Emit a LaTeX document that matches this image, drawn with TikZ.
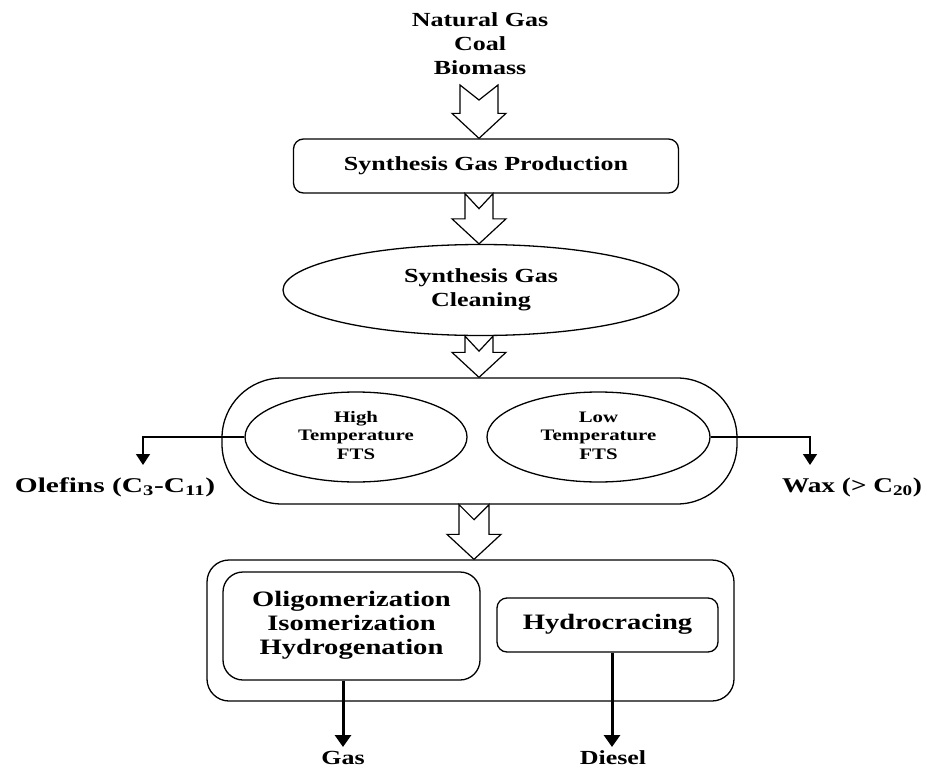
\documentclass[tikz,border=0pt]{standalone}
\usepackage{fontspec}
\setmainfont{Liberation Serif}
\usepackage{graphicx}
\usetikzlibrary{arrows.meta,shapes.geometric,calc}
\newcommand\sx[1]{\scalebox{1.3}[1]{\begin{tabular}{@{}c@{}}#1\end{tabular}}}
\newcommand\sxw[1]{\scalebox{1.4}[1]{\begin{tabular}{@{}c@{}}#1\end{tabular}}}
% block arrow: x, half shaft width, from, to
\newcommand\blockarr[4]{%
 \path[blockarrow] let \p1=(#3), \p2=(#4) in
  ({#1pt-#2pt},\y1) -- (#1pt,{\y1-15pt}) -- ({#1pt+#2pt},\y1)
  -- ({#1pt+#2pt},{\y2+25pt}) -- ({#1pt+27pt},{\y2+25pt}) -- (#1pt,\y2)
  -- ({#1pt-27pt},{\y2+25pt}) -- ({#1pt-#2pt},{\y2+25pt}) -- cycle;}
\tikzset{
 lbl/.style={font=\bfseries\fontsize{20}{24}\selectfont, inner sep=0pt},
 sidelbl/.style={font=\bfseries\fontsize{21}{24}\selectfont, inner sep=0pt},
 smalllbl/.style={font=\bfseries\fontsize{16}{18.5}\selectfont, inner sep=0pt},
 biglbl/.style={font=\bfseries\fontsize{22}{24}\selectfont, inner sep=0pt},
 rbox/.style={draw, line width=1.3pt, rounded corners=#1, inner sep=0pt},
 rbox/.default=10pt,
 ell/.style={draw, ellipse, line width=1.3pt, inner sep=0pt},
 blockarrow/.style={draw, fill=white, line width=1.2pt, line join=miter},
 sidearrow/.style={draw, line width=1.4pt, -{Triangle[width=14pt,length=11pt]}},
 bigarrow/.style={draw, line width=3pt, -{Triangle[width=16pt,length=12pt]}},
}
\begin{document}
\begin{tikzpicture}[x=1pt,y=-1pt]
\useasboundingbox (0,0) rectangle (927,771);
% feedstock
\node[lbl] (feed) at (480,46) {\sx{Natural Gas\\Coal\\Biomass}};
\coordinate (feedout) at (479,85);
% synthesis gas production
\node[rbox, minimum width=385pt, minimum height=54pt, lbl] (sgp) at (486,166) {\sx{Synthesis Gas Production}};
% cleaning
\node[ell, minimum width=396pt, minimum height=91pt, lbl] (clean) at (481,290) {\sx{Synthesis Gas\\Cleaning}};
% FTS container
\node[rbox=60pt, minimum width=515pt, minimum height=126pt] (fts) at (479.5,441) {};
\node[ell, minimum width=222pt, minimum height=90pt, smalllbl] (hts) at (356,437) {\sx{High\\Temperature\\FTS}};
\node[ell, minimum width=223pt, minimum height=90pt, smalllbl] (lts) at (598.5,437) {\sx{Low\\Temperature\\FTS}};
% side products
\node[sidelbl] (olef) at (115,488) {\sxw{Olefins (C\textsubscript{3}-C\textsubscript{11})}};
\node[sidelbl] (wax) at (852,488) {\sx{Wax (> C\textsubscript{20})}};
\coordinate (olefend) at (143,465);
\coordinate (waxend) at (810,465);
\draw[sidearrow] (hts.west) -| (olefend);
\draw[sidearrow] (lts.east) -| (waxend);
% upgrading
\node[rbox=22pt, minimum width=527pt, minimum height=141pt] (up) at (470.5,630.5) {};
\node[rbox=20pt, minimum width=257pt, minimum height=108pt, biglbl] (oig) at (351.5,626) {\sx{Oligomerization\\Isomerization\\Hydrogenation}};
\node[rbox=10pt, minimum width=221pt, minimum height=54pt, biglbl] (hyd) at (607.5,625) {\sx{Hydrocracing}};
% products
\node[lbl] (gas) at (343,760) {\sx{Gas}};
\node[lbl] (diesel) at (613,760) {\sx{Diesel}};
\coordinate (gasend) at (343,747);
\coordinate (dieselend) at (612,747);
\draw[bigarrow] (oig.south -| gasend) -- (gasend);
\draw[bigarrow] (hyd.south -| dieselend) -- (dieselend);
% block arrows
\blockarr{479}{19}{feedout}{sgp.north}
\blockarr{479}{14}{sgp.south}{clean.north}
\blockarr{479}{14}{clean.south}{fts.north}
\blockarr{474}{15}{fts.south}{up.north}
\end{tikzpicture}
\end{document}
